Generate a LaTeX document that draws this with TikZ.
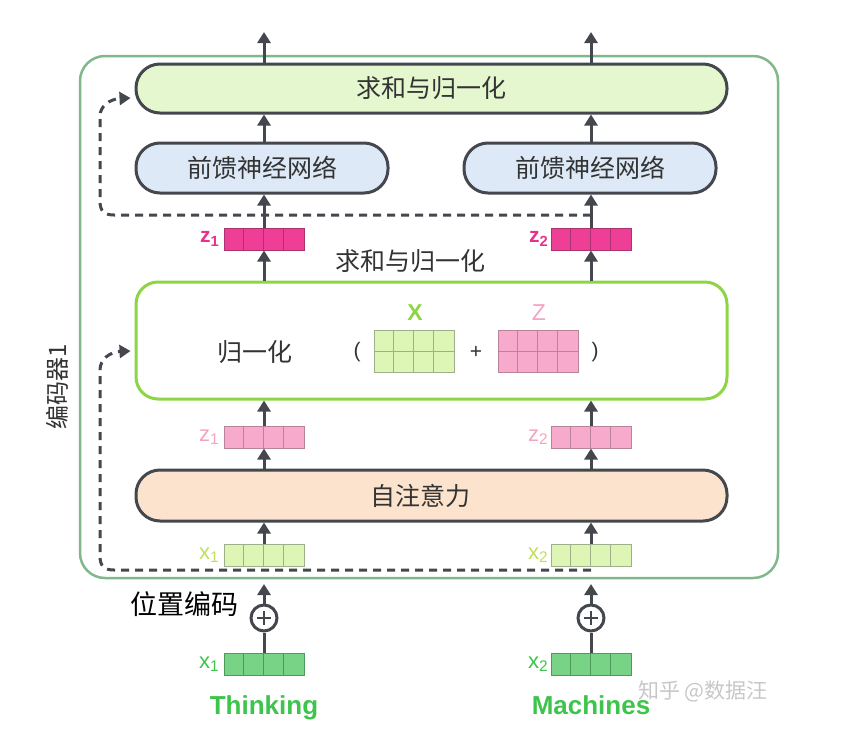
\documentclass[tikz,border=0pt]{standalone}
\usepackage{fontspec}
\setmainfont{Liberation Sans}
\newfontfamily\cjk{Noto Sans CJK SC}
\usetikzlibrary{arrows.meta}
\definecolor{encgreen}{HTML}{80B88C}
\definecolor{dgray}{HTML}{44474D}
\definecolor{topfill}{HTML}{E4F7CF}
\definecolor{ffnfill}{HTML}{DDE9F7}
\definecolor{attfill}{HTML}{FCE3CE}
\definecolor{lime}{HTML}{8ED545}
\definecolor{mag}{HTML}{E8308C}
\definecolor{magfill}{HTML}{EE3E96}
\definecolor{magdraw}{HTML}{A8336F}
\definecolor{lpink}{HTML}{F5A3C3}
\definecolor{lpinkfill}{HTML}{F7AACC}
\definecolor{lpinkdraw}{HTML}{B8849A}
\definecolor{lgreen}{HTML}{C0DF5C}
\definecolor{lgreenfill}{HTML}{DDF5B5}
\definecolor{lgreendraw}{HTML}{9FAF8C}
\definecolor{mgreen}{HTML}{3CC44B}
\definecolor{mgreenfill}{HTML}{79D387}
\definecolor{mgreendraw}{HTML}{4E9A5A}
\definecolor{txt}{HTML}{333333}
\newcommand\cellvec[5]{%
  \node[draw=#5, fill=#4, line width=1pt, minimum width=80pt, minimum height=22pt, inner sep=0pt] (#1) at (#2,#3) {};
  \foreach \k in {1,2,3} \draw[#5, line width=1pt] ([xshift=\k*20pt]#1.north west) -- ([xshift=\k*20pt]#1.south west);
}
\newcommand\cellmat[5]{%
  \node[draw=#5, fill=#4, line width=1pt, minimum width=80pt, minimum height=42pt, inner sep=0pt] (#1) at (#2,#3) {};
  \foreach \k in {1,2,3} \draw[#5, line width=1pt] ([xshift=\k*20pt]#1.north west) -- ([xshift=\k*20pt]#1.south west);
  \draw[#5, line width=1pt] (#1.west) -- (#1.east);
}
\tikzset{
  blk/.style={draw=dgray, line width=3pt, inner sep=0pt, font=\cjk\fontsize{25}{28}\selectfont, text=txt},
  arr/.style={draw=dgray, line width=3pt, -{Triangle[width=13pt,length=11pt]}},
  dashline/.style={draw=dgray, line width=3pt, dash pattern=on 8pt off 6pt},
  dasharr/.style={dashline, -{Triangle[width=13pt,length=11pt]}},
  vlab/.style={font=\fontsize{22}{24}\selectfont, anchor=east, inner sep=1pt},
  word/.style={font=\bfseries\fontsize{26}{30}\selectfont, text=mgreen, anchor=base, inner sep=0pt},
}
\begin{document}
\begin{tikzpicture}[x=1pt, y=-1pt]
\useasboundingbox (0,0) rectangle (863,745);
% encoder frame
\node[draw=encgreen, line width=2.5pt, rounded corners=25pt, minimum width=698pt, minimum height=522pt, inner sep=0pt] (enc) at (429,317) {};
\node[font=\cjk\fontsize{24}{26}\selectfont, text=txt, rotate=90] (enclab) at (57,387) {编码器1};
% blocks
\node[blk, fill=topfill, rounded corners=24pt, minimum width=591pt, minimum height=49pt] (top) at (431.5,88.5) {求和与归一化};
\node[blk, fill=ffnfill, rounded corners=24pt, minimum width=252pt, minimum height=50pt] (ffnL) at (262,168) {前馈神经网络};
\node[blk, fill=ffnfill, rounded corners=24pt, minimum width=252pt, minimum height=50pt] (ffnR) at (590,168) {前馈神经网络};
\node[draw=lime, line width=3pt, fill=white, rounded corners=22pt, minimum width=591pt, minimum height=117pt, inner sep=0pt] (mid) at (431.5,340.5) {};
\node[blk, fill=attfill, rounded corners=24pt, minimum width=591pt, minimum height=51pt] (att) at (431.5,495.5) {\hspace*{-22pt}自注意力};
\node[font=\cjk\fontsize{25}{28}\selectfont, text=txt] (sumlab) at (410,261) {求和与归一化};
% inside middle block
\node[font=\cjk\fontsize{25}{28}\selectfont, text=txt] (normlab) at (255,352) {归一化};
\node[font=\fontsize{21}{24}\selectfont, text=txt] (lp) at (357,352) {(};
\cellmat{Xm}{414}{351}{lgreenfill}{lgreendraw}
\node[font=\fontsize{21}{24}\selectfont, text=txt] (plus) at (476,352) {+};
\cellmat{Zm}{538}{351}{lpinkfill}{lpinkdraw}
\node[font=\fontsize{21}{24}\selectfont, text=txt] (rp) at (595,352) {)};
\node[font=\bfseries\fontsize{23}{26}\selectfont, text=lime] (Xl) at (415,313) {X};
\node[font=\fontsize{23}{26}\selectfont, text=lpink] (Zl) at (539,313) {Z};
% vectors
\cellvec{z1t}{264}{239}{magfill}{magdraw}
\cellvec{z2t}{591}{239}{magfill}{magdraw}
\cellvec{z1m}{264}{437}{lpinkfill}{lpinkdraw}
\cellvec{z2m}{591}{437}{lpinkfill}{lpinkdraw}
\cellvec{x1m}{264}{555}{lgreenfill}{lgreendraw}
\cellvec{x2m}{591}{555}{lgreenfill}{lgreendraw}
\cellvec{x1b}{264}{664}{mgreenfill}{mgreendraw}
\cellvec{x2b}{591}{664}{mgreenfill}{mgreendraw}
\node[vlab, text=mag, font=\bfseries\fontsize{21}{24}\selectfont] (lz1t) at ([xshift=-3pt]z1t.west) {z\textsubscript{1}};
\node[vlab, text=mag, font=\bfseries\fontsize{21}{24}\selectfont] (lz2t) at ([xshift=-1pt]z2t.west) {z\textsubscript{2}};
\node[vlab, text=lpink] (lz1m) at ([xshift=-3pt]z1m.west) {z\textsubscript{1}};
\node[vlab, text=lpink] (lz2m) at ([xshift=-1pt]z2m.west) {z\textsubscript{2}};
\node[vlab, text=lgreen] (lx1m) at ([xshift=-3pt]x1m.west) {x\textsubscript{1}};
\node[vlab, text=lgreen] (lx2m) at ([xshift=-1pt]x2m.west) {x\textsubscript{2}};
\node[vlab, text=mgreen] (lx1b) at ([xshift=-3pt]x1b.west) {x\textsubscript{1}};
\node[vlab, text=mgreen] (lx2b) at ([xshift=-1pt]x2b.west) {x\textsubscript{2}};
% positional encoding circles
\node[circle, draw=dgray, line width=3pt, fill=white, minimum size=26pt, inner sep=0pt] (pL) at (264,618) {};
\node[circle, draw=dgray, line width=3pt, fill=white, minimum size=26pt, inner sep=0pt] (pR) at (591,618) {};
\foreach \c in {pL,pR} {
  \draw[dgray, line width=2.5pt] ([xshift=-7pt]\c.center) -- ([xshift=7pt]\c.center);
  \draw[dgray, line width=2.5pt] ([yshift=-7pt]\c.center) -- ([yshift=7pt]\c.center);
}
\node[font=\cjk\fontsize{27}{30}\selectfont, text=black] (poslab) at (184,604) {位置编码};
\node[word] (w1) at (264,714) {Thinking};
\node[word] (w2) at (591,714) {Machines};
\node[font=\cjk\fontsize{21}{24}\selectfont, text=black!22] (wm) at (703,691) {知乎 @数据汪};
% coordinates
\coordinate (oL) at (264,32);
\coordinate (oR) at (591,32);
\coordinate (eL) at (264,584);
\coordinate (eR) at (591,584);
\coordinate (d1) at (591,215);
\coordinate (d2) at (591,570);
% arrows
\draw[arr] (top.north -| oL) -- (oL);
\draw[arr] (top.north -| oR) -- (oR);
\draw[arr] (z1t.north |- ffnL.north) -- (z1t.north |- top.south);
\draw[arr] (z2t.north |- ffnR.north) -- (z2t.north |- top.south);
\draw[arr] (z1t.north) -- (z1t.north |- ffnL.south);
\draw[arr] (z2t.north) -- (z2t.north |- ffnR.south);
\draw[arr] (z1t.south |- mid.north) -- (z1t.south);
\draw[arr] (z2t.south |- mid.north) -- (z2t.south);
\draw[arr] (z1m.north) -- (z1m.north |- mid.south);
\draw[arr] (z2m.north) -- (z2m.north |- mid.south);
\draw[arr] (z1m.south |- att.north) -- (z1m.south);
\draw[arr] (z2m.south |- att.north) -- (z2m.south);
\draw[arr] (x1m.north) -- (x1m.north |- att.south);
\draw[arr] (x2m.north) -- (x2m.north |- att.south);
\draw[arr] (pL.north) -- (eL);
\draw[arr] (pR.north) -- (eR);
\draw[dgray, line width=3pt] (x1b.north) -- (pL.south);
\draw[dgray, line width=3pt] (x2b.north) -- (pR.south);
% residual dashed connectors
\draw[dasharr] (d1) -- (114,215) .. controls (104,215) and (100,211) .. (100,201) -- (100,116) .. controls (100,106) and (110,99) .. ([xshift=-4pt]top.west |- 0,98);
\draw[dasharr] (d2) -- (114,570) .. controls (104,570) and (100,566) .. (100,556) -- (100,370) .. controls (100,359) and (110,352) .. ([xshift=-4pt]mid.west |- 0,351);
\end{tikzpicture}
\end{document}
